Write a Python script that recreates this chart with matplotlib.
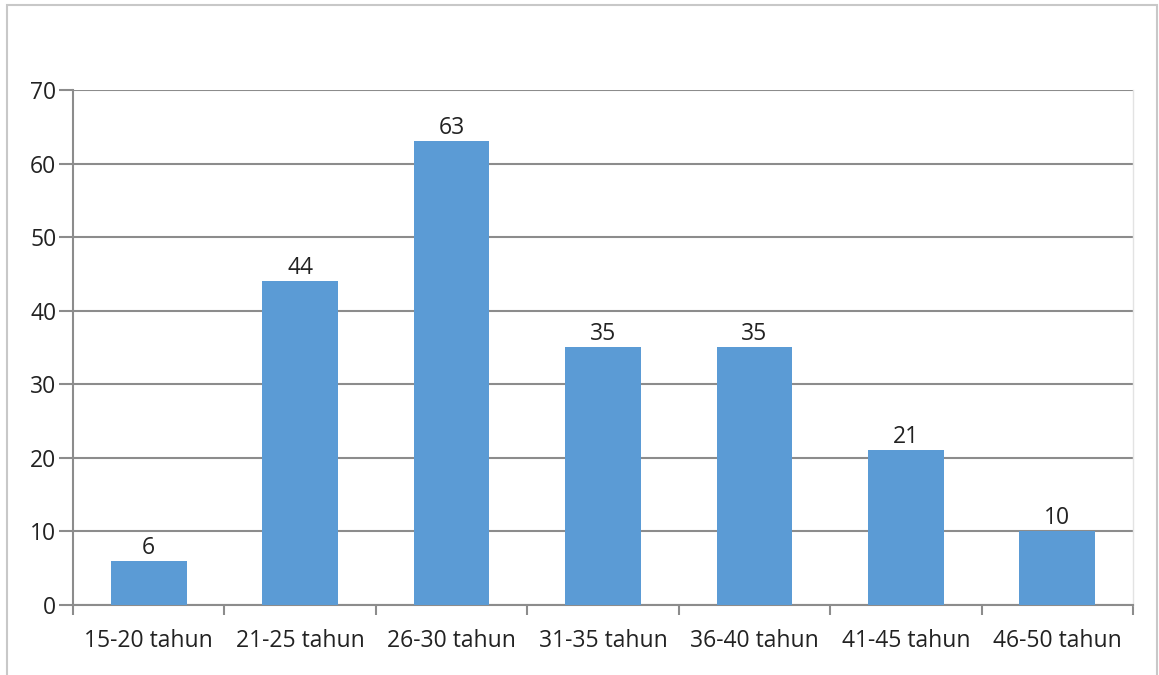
import matplotlib.pyplot as plt
import numpy as np
from matplotlib.patches import Rectangle

plt.rcParams['font.family'] = ['Open Sans', 'DejaVu Sans']

categories = ['15-20 tahun', '21-25 tahun', '26-30 tahun', '31-35 tahun',
              '36-40 tahun', '41-45 tahun', '46-50 tahun']
counts = [6, 44, 63, 35, 35, 21, 10]
y_ticks = [0, 10, 20, 30, 40, 50, 60, 70]

fig = plt.figure(figsize=(11.59, 6.75), dpi=100)
ax = fig.add_axes([0.063, 0.1037, 0.9146, 0.763])

x = np.arange(len(categories))
bars = ax.bar(x, counts, width=0.5, color='#5B9BD5', zorder=3)
for xi, v in zip(x, counts):
    ax.text(xi, v + 0.15, str(v), ha='center', va='bottom', fontsize=16.5, color='#222222')

ax.set_xlim(-0.5, len(categories) - 0.5)
ax.set_ylim(0, 70)
ax.set_yticks(y_ticks)
ax.yaxis.grid(True, color='#8c8c8c', linewidth=1.5, zorder=0)

# category boundary ticks below the axis, labels centred on each bar
ax.set_xticks(np.arange(len(categories) + 1) - 0.5)
ax.set_xticklabels([])
ax.set_xticks(x, minor=True)
ax.set_xticklabels(categories, minor=True)
ax.tick_params(axis='x', which='minor', length=0, pad=17, labelsize=16.5, labelcolor='#222222')
ax.tick_params(axis='x', which='major', length=7, width=1.5, color='#8c8c8c', direction='out')
ax.tick_params(axis='y', length=10, width=1.5, color='#8c8c8c', labelsize=16.5,
               labelcolor='#222222', pad=2)

for side in ['left', 'bottom']:
    ax.spines[side].set_color('#8c8c8c')
    ax.spines[side].set_linewidth(1.5)
ax.spines['top'].set_visible(False)
ax.spines['right'].set_color('#e3e3e3')
ax.spines['right'].set_linewidth(1)

# light frame around the whole chart
fig.patches.append(Rectangle((0.006, -0.01), 0.992, 1.003, transform=fig.transFigure,
                             fill=False, edgecolor='#c8c8c8', linewidth=1.5))

fig.savefig('out.png', dpi=100)
